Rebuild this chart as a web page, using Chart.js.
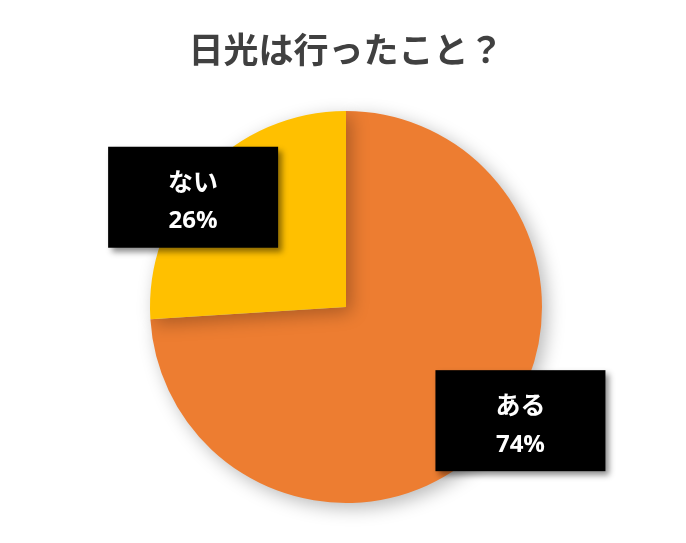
<!DOCTYPE html>
<html>
<head>
<meta charset="utf-8">
<script src="https://cdn.jsdelivr.net/npm/chart.js@4"></script>
<style>
  html, body { margin: 0; padding: 0; background: #fff; }
  #wrap { width: 686px; height: 543px; }
</style>
</head>
<body>
<div id="wrap"><canvas id="pieChart"></canvas></div>
<script>
var labels = ["ある", "ない"];
var values = [74, 26];
var colors = ["#ED7D31", "#FFC000"];
var title = "日光は行ったこと？";

// where each label box sits, as fractions of the pie radius from the centre
var boxSpots = [[0.89, 0.58], [-0.78, -0.56]];

var shadowPlugin = {
    id: "pieShadow",
    beforeDatasetDraw: function (chart) {
        var c = chart.ctx;
        c.save();
        c.shadowColor = "rgba(0,0,0,0.28)";
        c.shadowBlur = 18;
        c.shadowOffsetX = 5;
        c.shadowOffsetY = 5;
    },
    afterDatasetDraw: function (chart) {
        chart.ctx.restore();
    }
};

var boxPlugin = {
    id: "labelBoxes",
    afterDatasetsDraw: function (chart) {
        var c = chart.ctx;
        var arcs = chart.getDatasetMeta(0).data;
        var total = values.reduce(function (a, b) { return a + b; }, 0);
        arcs.forEach(function (arc, i) {
            var cx = arc.x + arc.outerRadius * boxSpots[i][0];
            var cy = arc.y + arc.outerRadius * boxSpots[i][1];
            var w = 170, h = 101;
            c.save();
            c.shadowColor = "rgba(0,0,0,0.45)";
            c.shadowBlur = 6;
            c.shadowOffsetX = 4;
            c.shadowOffsetY = 4;
            c.fillStyle = "#000";
            c.fillRect(cx - w / 2, cy - h / 2, w, h);
            c.restore();
            c.save();
            c.fillStyle = "#fff";
            c.textAlign = "center";
            c.textBaseline = "middle";
            c.font = "bold 25px 'Noto Sans CJK JP', 'Noto Sans', sans-serif";
            c.fillText(labels[i], cx, cy - 16);
            c.font = "bold 24px 'Open Sans', 'Noto Sans', sans-serif";
            c.fillText(Math.round(values[i] / total * 100) + "%", cx, cy + 24);
            c.restore();
        });
    }
};

var ctx = document.getElementById("pieChart");
var myChart = new Chart(ctx, {
    type: "pie",
    data: {
        labels: labels,
        datasets: [{
            data: values,
            backgroundColor: colors,
            borderWidth: 0
        }]
    },
    options: {
        responsive: true,
        maintainAspectRatio: false,
        animation: false,
        layout: { padding: { left: 6, right: 0, top: 0, bottom: 40 } },
        plugins: {
            legend: { display: false },
            tooltip: { enabled: false },
            title: {
                display: true,
                text: title,
                color: "#404040",
                font: { size: 35, weight: "bold", family: "'Noto Sans CJK JP', sans-serif" },
                padding: { top: 29, bottom: 40 }
            }
        }
    },
    plugins: [shadowPlugin, boxPlugin]
});
</script>
</body>
</html>
